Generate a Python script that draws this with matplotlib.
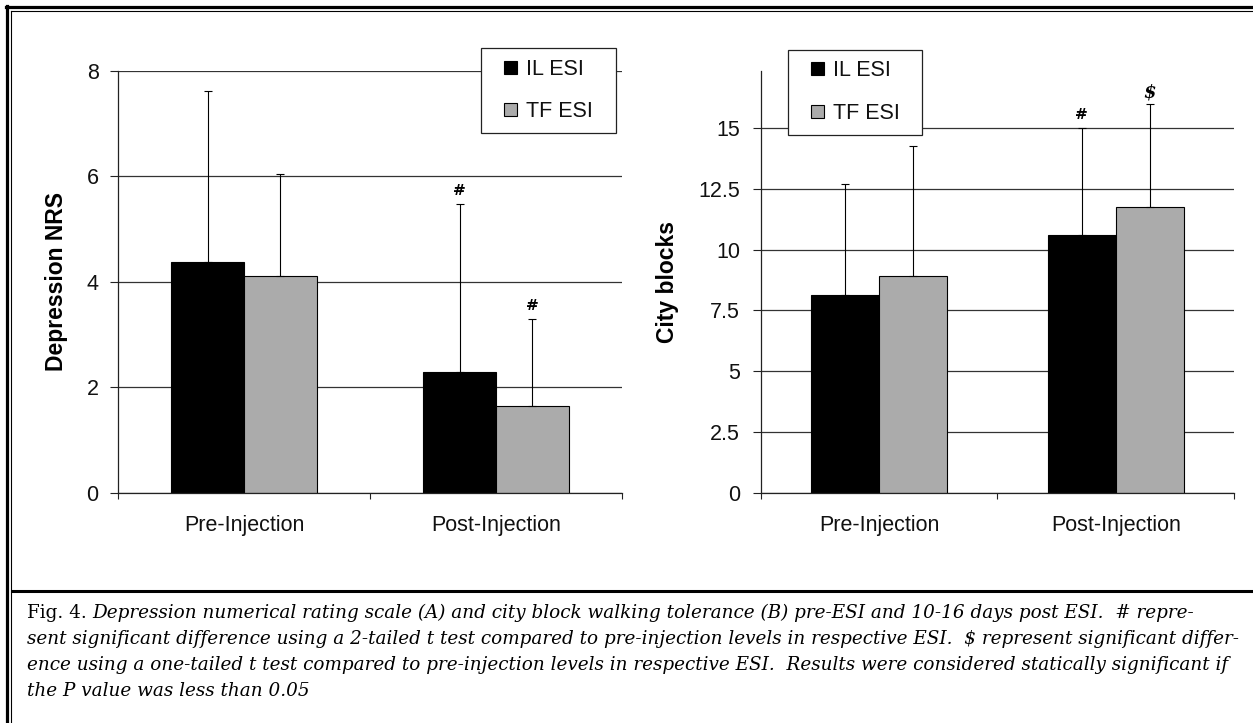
import numpy as np
import matplotlib
matplotlib.use("Agg")
import matplotlib.pyplot as plt
from matplotlib.lines import Line2D
from matplotlib.patches import Rectangle
from matplotlib.legend_handler import HandlerPatch

# data
groups = ["Pre-Injection", "Post-Injection"]
series = ["IL ESI", "TF ESI"]
colors = ["#000000", "#ababab"]

nrs_il = [4.38, 2.28]
nrs_tf = [4.11, 1.64]
nrs_il_sd = [3.24, 3.20]
nrs_tf_sd = [1.94, 1.65]
nrs_marks = [("", ""), ("#", "#")]

blocks_il = [8.13, 10.61]
blocks_tf = [8.92, 11.78]
blocks_il_sd = [4.58, 4.39]
blocks_tf_sd = [5.33, 4.21]
blocks_marks = [("", ""), ("#", "$")]

nrs_ticks = [0, 2, 4, 6, 8]
blocks_ticks = [0, 2.5, 5, 7.5, 10, 12.5, 15]
blocks_ticklabels = ["0", "2.5", "5", "7.5", "10", "12.5", "15"]

caption = [
    "Depression numerical rating scale (A) and city block walking tolerance (B) pre-ESI and 10-16 days post ESI.  # repre-",
    "sent significant difference using a 2-tailed t test compared to pre-injection levels in respective ESI.  \\$ represent significant differ-",
    "ence using a one-tailed t test compared to pre-injection levels in respective ESI.  Results were considered statically significant if",
    "the P value was less than 0.05",
]

W, H = 1253, 723
plt.rcParams['font.family'] = ['Liberation Sans', 'DejaVu Sans']
fig = plt.figure(figsize=(W / 100, H / 100), dpi=100)
fig.patch.set_facecolor("white")

def fx(px):
    return px / W

def fy(py):
    return 1 - py / H

FS = 15.5
bw = 0.288


def square(legend, orig_handle, xdescent, ydescent, width, height, fontsize):
    w = 0.56 * fontsize
    h = 0.6 * fontsize
    return Rectangle((-xdescent + width - w, -ydescent + (height - h) / 2), w, h)


sq = HandlerPatch(patch_func=square)


def panel(rect, il, tf, il_sd, tf_sd, marks, ticks, ticklabels, ymax,
          ylabel, ylabel_x, tickpad, leg_box):
    ax = fig.add_axes(rect)
    x = np.arange(len(groups))
    ax.set_axisbelow(True)
    ax.yaxis.grid(True, color="#333333", linewidth=0.9)
    handles = []
    for vals, sd, off, c, lab in [(il, il_sd, -bw / 2, colors[0], series[0]),
                                  (tf, tf_sd, bw / 2, colors[1], series[1])]:
        bars = ax.bar(x + off, vals, bw, color=c, edgecolor="black",
                      linewidth=0.8, label=lab, zorder=2)
        handles.append(bars.patches[0])
        ax.errorbar(x + off, vals, yerr=[np.zeros(len(sd)), sd], fmt="none",
                    ecolor="black", elinewidth=0.8, capsize=3.2,
                    capthick=0.8, zorder=3)
    for i in range(len(groups)):
        for j, (vals, sd) in enumerate([(il, il_sd), (tf, tf_sd)]):
            m = marks[i][j]
            if m:
                txt = "\\$" if m == "$" else m
                ax.annotate(txt, (x[i] + (j - 0.5) * bw, vals[i] + sd[i]),
                            xytext=(0, 6.5 if m == "#" else 4.5),
                            textcoords="offset points", ha="center",
                            va="baseline", fontsize=11 if m == "#" else 13,
                            fontweight="bold", family="DejaVu Serif",
                            style="italic" if m == "$" else "normal")
    ax.set_xlim(-0.5, len(groups) - 0.5)
    ax.set_ylim(0, ymax)
    ax.set_yticks(ticks)
    ax.set_yticklabels(ticklabels)
    ax.set_xticks([-0.5, 0.5, 1.5])
    ax.set_xticklabels([])
    ax.set_xticks(x, minor=True)
    ax.set_xticklabels(groups, minor=True)
    ax.tick_params(axis="x", which="major", direction="out", length=4.5,
                   width=0.8, color="#222222")
    ax.tick_params(axis="x", which="minor", length=0, pad=16, labelsize=FS,
                   labelcolor="#111111")
    ax.tick_params(axis="y", direction="out", length=6, width=0.8,
                   color="#222222", pad=tickpad, labelsize=FS,
                   labelcolor="#111111")
    for s in ["top", "right"]:
        ax.spines[s].set_visible(False)
    for s in ["left", "bottom"]:
        ax.spines[s].set_color("#222222")
        ax.spines[s].set_linewidth(0.9)
    ax.set_ylabel(ylabel, fontsize=16.5, fontweight="bold", va="center")
    ax.yaxis.set_label_coords(ylabel_x, 0.5)
    ax.set_facecolor("none")
    leg = ax.legend(handles, series, loc="lower left", bbox_to_anchor=leg_box,
                    mode="expand", borderaxespad=0, fontsize=FS,
                    frameon=True, fancybox=False, framealpha=1,
                    edgecolor="#222222", borderpad=0.5, labelspacing=1.0,
                    handlelength=1.15, handleheight=0.7, handletextpad=0.45,
                    handler_map={Rectangle: sq})
    leg.get_frame().set_linewidth(0.9)
    for t in leg.get_texts():
        t.set_color("#111111")
    return ax


top, bot = 70.7, 492.7
ax1 = panel([fx(118), fy(bot), fx(622) - fx(118), (bot - top) / H],
            nrs_il, nrs_tf, nrs_il_sd, nrs_tf_sd, nrs_marks,
            nrs_ticks, [str(t) for t in nrs_ticks], 8,
            "Depression NRS", -0.123, 8,
            ((481 - 118) / 504, (bot - 133) / 422, (615.7 - 481) / 504, 94 / 422))
ax2 = panel([fx(761), fy(bot), fx(1234) - fx(761), (bot - top) / H],
            blocks_il, blocks_tf, blocks_il_sd, blocks_tf_sd, blocks_marks,
            blocks_ticks, blocks_ticklabels, 17.37,
            "City blocks", -0.197, 9,
            ((788 - 761) / 473, (bot - 134.7) / 422, (922 - 788) / 473, 94 / 422))

# frame lines
def hline(py, x0, x1, lw):
    fig.add_artist(Line2D([fx(x0), fx(x1)], [fy(py), fy(py)], color="black",
                          linewidth=lw, transform=fig.transFigure))

def vline(px, y0, y1, lw):
    fig.add_artist(Line2D([fx(px), fx(px)], [fy(y0), fy(y1)], color="black",
                          linewidth=lw, transform=fig.transFigure))

vline(6.5, 5.5, H, 2.3)
vline(10.5, 10.5, H, 0.8)
hline(7, 5.5, W, 2.3)
hline(11, 10.5, W, 0.8)
hline(590.5, 12, W, 2.2)

# caption
cap_fs = 13.2
baselines = [618, 644, 670, 696]
fig_txt = fig.text(fx(27), fy(baselines[0]), "Fig. 4. ", fontsize=cap_fs,
                   family="DejaVu Serif", va="baseline", ha="left")
fig.canvas.draw()
r = fig.canvas.get_renderer()
bb = fig_txt.get_window_extent(r)
fig.text(bb.x1 / W, fy(baselines[0]), caption[0], fontsize=cap_fs,
         family="DejaVu Serif", style="italic", va="baseline", ha="left")
for line, b in zip(caption[1:], baselines[1:]):
    fig.text(fx(27), fy(b), line, fontsize=cap_fs, family="DejaVu Serif",
             style="italic", va="baseline", ha="left")

fig.savefig("out.png", dpi=100, facecolor="white")
